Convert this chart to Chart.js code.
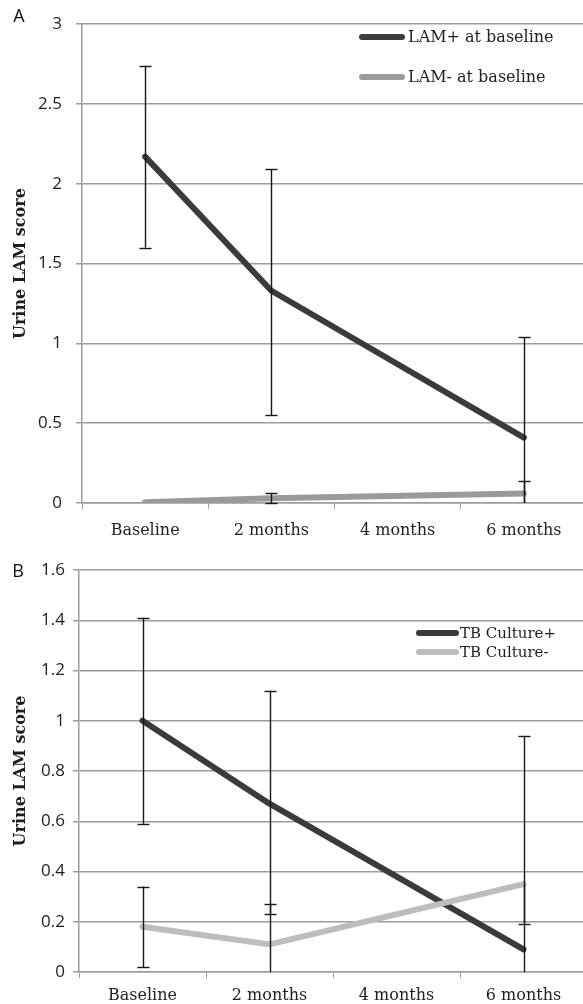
<!DOCTYPE html>
<html>
<head>
<meta charset="utf-8">
<script src="https://cdn.jsdelivr.net/npm/chart.js@4.4.1/dist/chart.umd.min.js"></script>
<style>
  html, body { margin: 0; padding: 0; background: #fff; overflow: hidden; width: 583px; height: 1004px; }
  .panel { position: absolute; left: 0; }
  #wrapA { top: 0; }
  #wrapB { top: 548px; }
</style>
</head>
<body>
<div class="panel" id="wrapA"><canvas id="chartA" width="587" height="548"></canvas></div>
<div class="panel" id="wrapB"><canvas id="chartB" width="587" height="456"></canvas></div>
<script>
// categories (shared x axis)
const timepoints = ['Baseline', '2 months', '4 months', '6 months'];

// panel A - LAM status at baseline
const lamPos = [2.17, 1.33, null, 0.41];
const lamPosHigh = [2.74, 2.09, null, 1.04];
const lamPosLow = [1.60, 0.55, null, -0.22];
const lamNeg = [0.005, 0.03, null, 0.06];
const lamNegHigh = [null, 0.06, null, 0.14];
const lamNegLow = [null, 0.0, null, -0.02];

// panel B - TB culture status
const culPos = [1.0, 0.67, null, 0.09];
const culPosHigh = [1.41, 1.12, null, 0.94];
const culPosLow = [0.59, 0.23, null, -0.76];
const culNeg = [0.18, 0.11, null, 0.35];
const culNegHigh = [0.34, 0.27, null, null];
const culNegLow = [0.02, -0.05, null, 0.19];

// y axis ticks
const yTicksA = [0, 0.5, 1, 1.5, 2, 2.5, 3];
const yTicksB = [0, 0.2, 0.4, 0.6, 0.8, 1, 1.2, 1.4, 1.6];

const DARK = '#3b3b3b';
const GRID = '#9c9c9c';
const SERIF = '"DejaVu Serif", serif';
const SANS = '"Open Sans", sans-serif';

/**
 * errorBars
 * 畫誤差線 (clip 到 chart area 底部時不畫 cap)
 */
const errorBars = {
  id: 'errorBars',
  afterDatasetsDraw(chart) {
    const ctx = chart.ctx;
    const yScale = chart.scales.y;
    const area = chart.chartArea;
    ctx.save();
    ctx.strokeStyle = '#161616';
    ctx.lineWidth = 1.4;
    chart.data.datasets.forEach((ds, i) => {
      const meta = chart.getDatasetMeta(i);
      ds.data.forEach((v, j) => {
        if (v === null) return;
        const px = Math.round(meta.data[j].x) + 0.5;
        const py = yScale.getPixelForValue(v);
        [ds.errHigh[j], ds.errLow[j]].forEach(b => {
          if (b === null || b === undefined) return;
          let pb = yScale.getPixelForValue(b);
          let cap = true;
          if (pb > area.bottom) { pb = area.bottom; cap = false; }
          ctx.beginPath();
          ctx.moveTo(px, py);
          ctx.lineTo(px, pb);
          ctx.stroke();
          if (cap) {
            ctx.beginPath();
            ctx.moveTo(px - 6, Math.round(pb) + 0.5);
            ctx.lineTo(px + 6, Math.round(pb) + 0.5);
            ctx.stroke();
          }
        });
      });
    });
    ctx.restore();
  }
};

/**
 * insideLegend
 * legend 畫在 chart area 裡面
 */
const insideLegend = {
  id: 'insideLegend',
  afterDraw(chart, args, opts) {
    const ctx = chart.ctx;
    ctx.save();
    ctx.font = opts.font;
    ctx.textBaseline = 'middle';
    ctx.fillStyle = '#1e1e1e';
    ctx.lineCap = 'round';
    chart.data.datasets.forEach((ds, i) => {
      const y = opts.y + i * opts.gap;
      ctx.strokeStyle = ds.borderColor;
      ctx.lineWidth = opts.lineWidth;
      ctx.beginPath();
      ctx.moveTo(opts.x, y);
      ctx.lineTo(opts.x + opts.len, y);
      ctx.stroke();
      ctx.fillText(ds.label, opts.x + opts.len + opts.textGap, y + 1);
    });
    ctx.restore();
  }
};

/**
 * panelTag
 * A / B 字母
 */
const panelTag = {
  id: 'panelTag',
  afterDraw(chart, args, opts) {
    const ctx = chart.ctx;
    ctx.save();
    ctx.font = '18px ' + SANS;
    ctx.fillStyle = '#111';
    ctx.textAlign = 'center';
    ctx.textBaseline = 'middle';
    ctx.fillText(opts.text, opts.x, opts.y);
    ctx.restore();
  }
};

function makeChart(id, cfg) {
  return new Chart(document.getElementById(id), {
    type: 'line',
    data: {
      labels: timepoints,
      datasets: [
        {
          label: cfg.names[0], data: cfg.series[0], errHigh: cfg.highs[0], errLow: cfg.lows[0],
          borderColor: DARK, borderWidth: 6, order: 1
        },
        {
          label: cfg.names[1], data: cfg.series[1], errHigh: cfg.highs[1], errLow: cfg.lows[1],
          borderColor: cfg.lightColor, borderWidth: 6, order: 0
        }
      ]
    },
    plugins: [errorBars, insideLegend, panelTag],
    options: {
      responsive: false,
      animation: false,
      spanGaps: true,
      layout: { padding: { top: cfg.top, left: 0, right: 0, bottom: 0 } },
      elements: {
        point: { radius: 0, hoverRadius: 0 },
        line: { tension: 0, borderCapStyle: 'round', borderJoinStyle: 'round' }
      },
      plugins: {
        legend: { display: false },
        tooltip: { enabled: false },
        insideLegend: cfg.legend,
        panelTag: cfg.tag
      },
      scales: {
        x: {
          offset: true,
          grid: { offset: true, drawOnChartArea: false, drawTicks: true, tickLength: 6, color: GRID },
          border: { color: GRID, width: 1.5 },
          ticks: { font: { family: SERIF, size: 16 }, color: '#1e1e1e', padding: cfg.xPad },
          afterFit: s => { s.height = cfg.xHeight; }
        },
        y: {
          min: cfg.yTicks[0],
          max: cfg.yTicks[cfg.yTicks.length - 1],
          afterBuildTicks: s => { s.ticks = cfg.yTicks.map(v => ({ value: v })); },
          grid: { color: GRID, lineWidth: 1.5, tickLength: 6 },
          border: { color: GRID, width: 1.5 },
          ticks: {
            font: { family: SANS, size: 17 }, color: '#1e1e1e', padding: cfg.yPad,
            callback: v => String(v)
          },
          title: {
            display: true, text: 'Urine LAM score', color: '#1e1e1e',
            font: { family: SERIF, size: 16, weight: 'bold' }, padding: { top: 11, bottom: 0 }
          },
          afterFit: s => { s.width = cfg.yWidth; }
        }
      }
    }
  });
}

makeChart('chartA', {
  names: ['LAM+ at baseline', 'LAM- at baseline'],
  series: [lamPos, lamNeg],
  highs: [lamPosHigh, lamNegHigh],
  lows: [lamPosLow, lamNegLow],
  lightColor: '#9a9a9a',
  yTicks: yTicksA,
  top: 17, xHeight: 45, yWidth: 82, xPad: 12, yPad: 14,
  legend: { x: 362, y: 37, gap: 40, len: 40, textGap: 6, lineWidth: 6, font: '16px ' + SERIF },
  tag: { text: 'A', x: 19, y: 17 }
});

makeChart('chartB', {
  names: ['TB Culture+', 'TB Culture-'],
  series: [culPos, culNeg],
  highs: [culPosHigh, culNegHigh],
  lows: [culPosLow, culNegLow],
  lightColor: '#bdbdbd',
  yTicks: yTicksB,
  top: 22, xHeight: 32, yWidth: 79, xPad: 8, yPad: 8,
  legend: { x: 419, y: 85, gap: 19, len: 37, textGap: 4, lineWidth: 6, font: '15px ' + SERIF },
  tag: { text: 'B', x: 18, y: 24 }
});
</script>
</body>
</html>
